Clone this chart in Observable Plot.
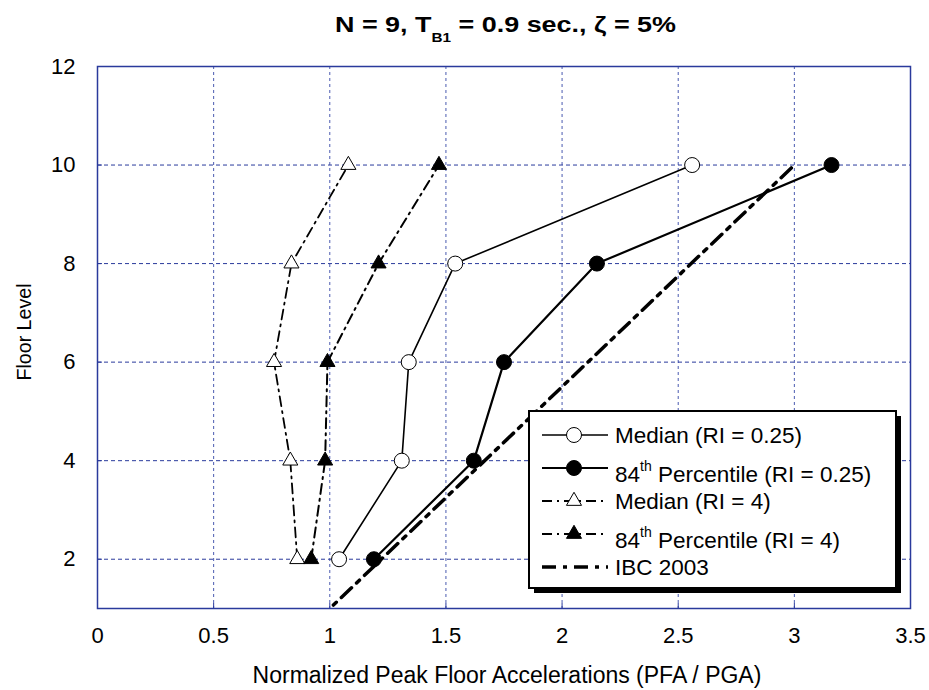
<!DOCTYPE html>
<html><head><meta charset="utf-8">
<script src="https://cdn.jsdelivr.net/npm/d3@7"></script>
<script src="https://cdn.jsdelivr.net/npm/@observablehq/plot@0.6"></script>
<style>body{margin:0;background:#fff;} svg{display:block;}</style>
</head><body><div id="chart"></div>
<script>
// ---- data ----
const floors = [2, 4, 6, 8, 10];
const medianRI025 = [1.04, 1.31, 1.34, 1.54, 2.56];
const p84RI025 = [1.19, 1.62, 1.75, 2.15, 3.16];
const medianRI4 = [0.86, 0.83, 0.76, 0.835, 1.08];
const p84RI4 = [0.92, 0.98, 0.99, 1.21, 1.47];
const ibcFloors = [1, 10];
const ibcValues = [1, 3];
const xTicks = [0, 0.5, 1, 1.5, 2, 2.5, 3, 3.5];
const yTicks = [2, 4, 6, 8, 10, 12];
const seriesNames = ["Median (RI = 0.25)", "84th Percentile (RI = 0.25)", "Median (RI = 4)", "84th Percentile (RI = 4)", "IBC 2003"];
const titleMain = "N = 9, T";
const titleSub = "B1";
const titleRest = " = 0.9 sec., ζ = 5%";
const xLabel = "Normalized Peak Floor Accelerations (PFA / PGA)";
const yLabel = "Floor Level";

// ---- layout ----
const W = 929, H = 690, mt = 66, mr = 19, mb = 82, ml = 97;
const plotW = W - ml - mr, plotH = H - mt - mb;
const frameColor = "#2a3a9c";
const font = "Liberation Sans, Arial, Helvetica, sans-serif";

const series = [
  {name: seriesNames[0], values: medianRI025, symbol: "circle", fill: "#fff", r: 7.5, width: 1.6, dash: null},
  {name: seriesNames[1], values: p84RI025, symbol: "circle", fill: "#000", r: 7.5, width: 2.2, dash: null},
  {name: seriesNames[2], values: medianRI4, symbol: "triangle", fill: "#fff", r: 5.6, width: 1.8, dash: "10,5,2,5"},
  {name: seriesNames[3], values: p84RI4, symbol: "triangle", fill: "#000", r: 5.6, width: 2.0, dash: "10,5,2,5"}
];
const ibcStyle = {width: 3.5, dash: "14,7,4,7"};
const ibc = ibcFloors.map((f, i) => ({x: ibcValues[i], y: f}));

const lineMarks = series.map(s => Plot.line(floors.map((f, i) => ({x: s.values[i], y: f})), {
  x: "x", y: "y", stroke: "#000", strokeWidth: s.width, strokeDasharray: s.dash || undefined
}));
const dotMarks = series.map(s => Plot.dot(floors.map((f, i) => ({x: s.values[i], y: f})), {
  x: "x", y: "y", symbol: s.symbol, r: s.r, fill: s.fill, stroke: "#000", strokeWidth: 1
}));

const plot = Plot.plot({
  width: W, height: H, marginTop: mt, marginRight: mr, marginBottom: mb, marginLeft: ml,
  x: {domain: [0, 3.5], label: null},
  y: {domain: [1, 12], label: null},
  style: {fontFamily: font, fontSize: "22px", color: "#000", background: "#fff", overflow: "visible"},
  marks: [
    Plot.ruleX(xTicks.slice(1, -1), {stroke: "#4a5ab0", strokeDasharray: "3,3", strokeWidth: 1}),
    Plot.ruleY(yTicks.slice(0, -1), {stroke: "#2a3a9c", strokeDasharray: "4,3", strokeWidth: 1}),
    Plot.ruleX(xTicks.slice(1, -1), {stroke: frameColor, strokeWidth: 1, insetTop: plotH - 5}),
    Plot.ruleY(yTicks.slice(0, -1), {stroke: frameColor, strokeWidth: 1, insetRight: plotW - 5}),
    Plot.frame({stroke: frameColor, strokeWidth: 1.5}),
    Plot.axisX(xTicks, {tickSize: 0, tickPadding: 19, fontSize: 22, tickFormat: d => String(d), label: null}),
    Plot.axisY(yTicks, {tickSize: 0, tickPadding: 22, fontSize: 22, label: null}),
    Plot.line(ibc, {x: "x", y: "y", stroke: "#000", strokeWidth: ibcStyle.width, strokeDasharray: ibcStyle.dash, strokeDashoffset: 16}),
    ...lineMarks,
    ...dotMarks
  ]
});
document.getElementById("chart").appendChild(plot);

// ---- title, axis labels, legend ----
const svg = d3.select(plot);
const t = svg.append("text").attr("x", 335).attr("y", 32).attr("text-anchor", "start")
  .attr("font-family", font).attr("font-weight", "bold").attr("font-size", 22).attr("fill", "#000")
  .attr("textLength", 341).attr("lengthAdjust", "spacingAndGlyphs");
t.append("tspan").text(titleMain);
t.append("tspan").attr("font-size", 12.5).attr("dy", 10).text(titleSub);
t.append("tspan").attr("dy", -10).text(titleRest);

svg.append("text").attr("x", 507).attr("y", 683).attr("text-anchor", "middle")
  .attr("font-family", font).attr("font-size", 23).attr("fill", "#000").text(xLabel);
svg.append("text").attr("transform", "translate(31,332) rotate(-90)").attr("text-anchor", "middle")
  .attr("font-family", font).attr("font-size", 21).attr("fill", "#000")
  .attr("textLength", 97).attr("lengthAdjust", "spacingAndGlyphs").text(yLabel);

const lg = svg.append("g").attr("text-anchor", "start");
lg.append("rect").attr("x", 534).attr("y", 416).attr("width", 367).attr("height", 177).attr("fill", "#000");
lg.append("rect").attr("x", 529).attr("y", 411).attr("width", 367).attr("height", 177)
  .attr("fill", "#fff").attr("stroke", "#000").attr("stroke-width", 2);
const symY = [435, 468, 501, 534, 567];
const txtY = [443, 482, 509, 548, 575];
const allStyles = [...series, {width: ibcStyle.width, dash: ibcStyle.dash}];
allStyles.forEach((s, i) => {
  lg.append("line").attr("x1", 542).attr("x2", 608).attr("y1", symY[i]).attr("y2", symY[i])
    .attr("stroke", "#000").attr("stroke-width", s.width).attr("stroke-dasharray", s.dash || null);
  if (s.symbol) {
    const sym = s.symbol === "circle" ? d3.symbolCircle : d3.symbolTriangle;
    lg.append("path").attr("transform", `translate(574,${symY[i]})`)
      .attr("d", d3.symbol(sym, Math.PI * s.r * s.r)())
      .attr("fill", s.fill).attr("stroke", "#000").attr("stroke-width", 1);
  }
  const tx = lg.append("text").attr("x", 615).attr("y", txtY[i]).attr("font-family", font)
    .attr("font-size", 22.5).attr("fill", "#000").attr("text-anchor", "start");
  const name = seriesNames[i];
  if (name.startsWith("84th")) {
    tx.append("tspan").text("84");
    tx.append("tspan").attr("font-size", 14).attr("dy", -11).text("th");
    tx.append("tspan").attr("dy", 11).text(name.slice(4));
  } else {
    tx.text(name);
  }
});
</script></body></html>
